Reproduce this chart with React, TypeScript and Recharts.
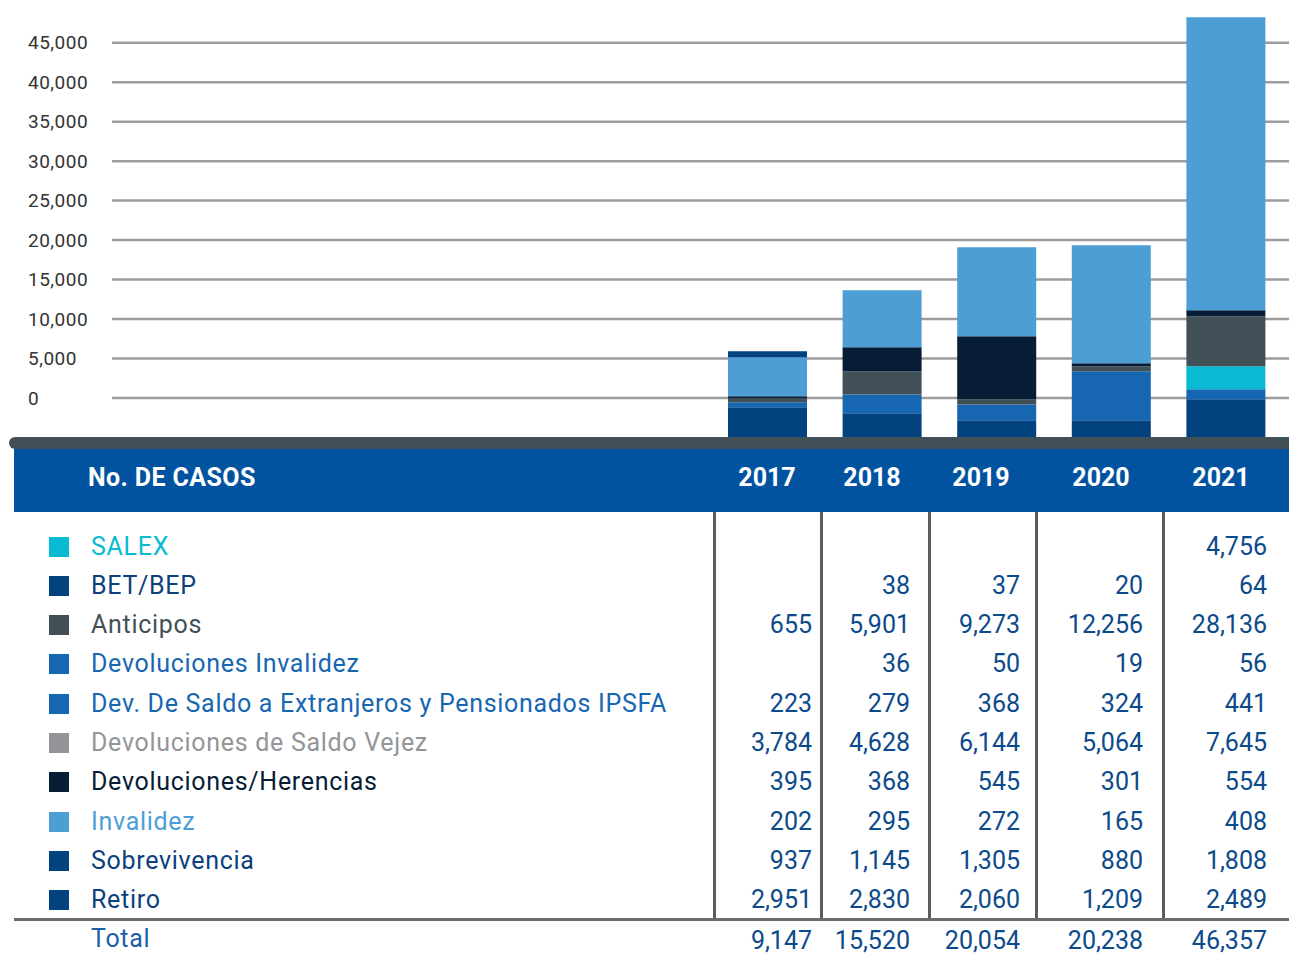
import React from "react";
import { BarChart, Bar, XAxis, YAxis, CartesianGrid } from "recharts";

const years = ["2017", "2018", "2019", "2020", "2021"];

// stacked bar layers, bottom to top, as drawn in the chart
const layerNavy = [3240, 2600, 1870, 1870, 4080];
const layerMid = [530, 2000, 1660, 5170, 1060];
const layerCyan = [0, 0, 0, 0, 2430];
const layerGrey = [420, 2430, 560, 530, 5270];
const layerBlack = [210, 2530, 6640, 320, 630];
const layerLight = [4110, 6010, 9390, 12440, 30900];
const layerCap = [630, 0, 0, 0, 0];

const axisTicks = [0, 5000, 10000, 15000, 20000, 25000, 30000, 35000, 40000, 45000];

// table rows
const rowLabels = [
  "SALEX",
  "BET/BEP",
  "Anticipos",
  "Devoluciones Invalidez",
  "Dev. De Saldo a Extranjeros y Pensionados IPSFA",
  "Devoluciones de Saldo Vejez",
  "Devoluciones/Herencias",
  "Invalidez",
  "Sobrevivencia",
  "Retiro",
];
const salex = [null, null, null, null, 4756];
const betBep = [null, 38, 37, 20, 64];
const anticipos = [655, 5901, 9273, 12256, 28136];
const devInvalidez = [null, 36, 50, 19, 56];
const devExtranjeros = [223, 279, 368, 324, 441];
const devVejez = [3784, 4628, 6144, 5064, 7645];
const herencias = [395, 368, 545, 301, 554];
const invalidez = [202, 295, 272, 165, 408];
const sobrevivencia = [937, 1145, 1305, 880, 1808];
const retiro = [2951, 2830, 2060, 1209, 2489];
const totals = [9147, 15520, 20054, 20238, 46357];

const rowValues = [salex, betBep, anticipos, devInvalidez, devExtranjeros, devVejez, herencias, invalidez, sobrevivencia, retiro];
const rowColors = ["#08bbd3", "#02427f", "#414f56", "#1766b2", "#1766b2", "#939598", "#071c35", "#4e9ed6", "#02427f", "#02427f"];
const rowTextColors = ["#08bbd3", "#0b3f7d", "#414f56", "#1766b2", "#1766b2", "#939598", "#071c35", "#4e9ed6", "#0b3f7d", "#0b3f7d"];

const barData = years.map((y, i) => ({
  year: y,
  navy: layerNavy[i],
  mid: layerMid[i],
  cyan: layerCyan[i],
  grey: layerGrey[i],
  black: layerBlack[i],
  light: layerLight[i],
  cap: layerCap[i],
}));

const fmt = (v: number) => v.toLocaleString("en-US");

const colRight = [812, 910, 1020, 1143, 1267];
const colCenter = [767, 872, 981, 1101, 1221];
const separators = [714, 821, 929, 1036, 1163];

const AxisTick = (props: any) => {
  const { y, payload } = props;
  return (
    <text
      x={28}
      y={y}
      dominantBaseline="central"
      textAnchor="start"
      fontSize={19}
      letterSpacing={0.5}
      fill="#333"
      fontFamily="Roboto, sans-serif"
    >
      {fmt(Number(payload.value))}
    </text>
  );
};

export default function App() {
  const rowCenter = (i: number) => 546.5 + i * 39.3;
  return (
    <div
      style={{
        position: "absolute",
        left: 0,
        top: 0,
        width: 1289,
        height: 954,
        background: "#fff",
        overflow: "hidden",
        fontFamily: "Roboto, sans-serif",
      }}
    >
      <div style={{ position: "absolute", left: 0, top: 0 }}>
        <BarChart width={1289} height={438} data={barData} margin={{ top: 17, right: 0, bottom: 0, left: 0 }}>
          <CartesianGrid yAxisId="grid" vertical={false} syncWithTicks stroke="#9d9d9f" strokeWidth={2.5} />
          <XAxis dataKey="year" hide padding={{ left: 598, right: 6 }} />
          <YAxis
            yAxisId="grid"
            width={112}
            domain={[-5066, 48255]}
            allowDataOverflow
            ticks={axisTicks}
            axisLine={false}
            tickLine={false}
            tick={<AxisTick />}
          />
          <YAxis yAxisId="bars" hide domain={[0, 44400]} allowDataOverflow />
          <Bar yAxisId="bars" dataKey="navy" stackId="a" fill="#02427f" barSize={79} isAnimationActive={false} />
          <Bar yAxisId="bars" dataKey="mid" stackId="a" fill="#1766b2" barSize={79} isAnimationActive={false} />
          <Bar yAxisId="bars" dataKey="cyan" stackId="a" fill="#08bbd3" barSize={79} isAnimationActive={false} />
          <Bar yAxisId="bars" dataKey="grey" stackId="a" fill="#414f56" barSize={79} isAnimationActive={false} />
          <Bar yAxisId="bars" dataKey="black" stackId="a" fill="#071c35" barSize={79} isAnimationActive={false} />
          <Bar yAxisId="bars" dataKey="light" stackId="a" fill="#4e9ed6" barSize={79} isAnimationActive={false} />
          <Bar yAxisId="bars" dataKey="cap" stackId="a" fill="#02427f" barSize={79} isAnimationActive={false} />
        </BarChart>
      </div>

      {/* dark strip under the bars and header band */}
      <div
        style={{
          position: "absolute",
          left: 9,
          top: 437,
          width: 1280,
          height: 12,
          background: "#414f56",
          borderRadius: "6px 0 0 6px",
        }}
      />
      <div style={{ position: "absolute", left: 14, top: 449, width: 1275, height: 63, background: "#02539f" }} />
      <div
        style={{
          position: "absolute",
          left: 88,
          top: 458,
          height: 40,
          lineHeight: "40px",
          fontSize: 25,
          fontWeight: 700,
          letterSpacing: 0.4,
          color: "#fff",
          whiteSpace: "nowrap",
        }}
      >
        No. DE CASOS
      </div>
      {years.map((y, i) => (
        <div
          key={y}
          style={{
            position: "absolute",
            left: colCenter[i] - 50,
            width: 100,
            top: 458,
            height: 40,
            lineHeight: "40px",
            textAlign: "center",
            fontSize: 25,
            fontWeight: 700,
            color: "#fff",
          }}
        >
          {y}
        </div>
      ))}

      {/* column separators */}
      {separators.map((x) => (
        <div key={x} style={{ position: "absolute", left: x - 1, top: 512, width: 2.5, height: 407, background: "#5c5c5c" }} />
      ))}
      <div style={{ position: "absolute", left: 14, top: 918, width: 1275, height: 3, background: "#6a6a6a" }} />

      {rowLabels.map((label, r) => (
        <React.Fragment key={label}>
          <div
            style={{
              position: "absolute",
              left: 49,
              top: rowCenter(r) - 10,
              width: 20,
              height: 20,
              background: rowColors[r],
            }}
          />
          <div
            style={{
              position: "absolute",
              left: 91,
              top: rowCenter(r) - 20,
              height: 40,
              lineHeight: "40px",
              fontSize: 25,
              letterSpacing: 0.7,
              color: rowTextColors[r],
              whiteSpace: "nowrap",
            }}
          >
            {label}
          </div>
          {rowValues[r].map((v, c) =>
            v == null ? null : (
              <div
                key={c}
                style={{
                  position: "absolute",
                  right: 1289 - colRight[c],
                  top: rowCenter(r) - 20,
                  height: 40,
                  lineHeight: "40px",
                  fontSize: 25,
                  color: "#0b4a8b",
                  whiteSpace: "nowrap",
                  textAlign: "right",
                }}
              >
                {fmt(v)}
              </div>
            )
          )}
        </React.Fragment>
      ))}

      <div
        style={{
          position: "absolute",
          left: 91,
          top: 926,
          height: 26,
          lineHeight: "26px",
          fontSize: 25,
          letterSpacing: 0.7,
          color: "#1a5ea8",
        }}
      >
        Total
      </div>
      {totals.map((v, c) => (
        <div
          key={c}
          style={{
            position: "absolute",
            right: 1289 - colRight[c],
            top: 928,
            height: 26,
            lineHeight: "26px",
            fontSize: 25,
            color: "#0b4a8b",
            whiteSpace: "nowrap",
          }}
        >
          {fmt(v)}
        </div>
      ))}
    </div>
  );
}
